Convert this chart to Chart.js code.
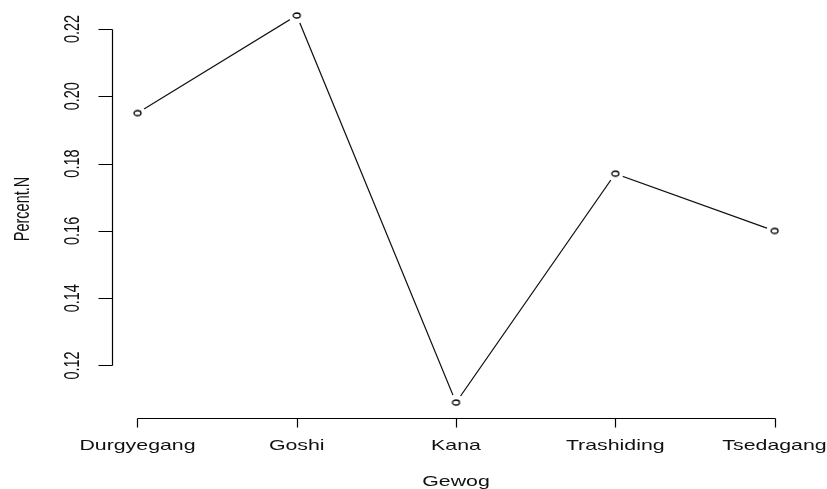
<!DOCTYPE html>
<html>
<head>
<meta charset="utf-8">
<script src="https://cdn.jsdelivr.net/npm/chart.js@4.4.0/dist/chart.umd.min.js"></script>
<style>
  html, body { margin: 0; padding: 0; background: #fff; }
  #wrap { width: 827px; height: 489px; }
</style>
</head>
<body>
<div id="wrap"><canvas id="chart" width="827" height="489"></canvas></div>
<script>
// values
const gewogs = ['Durgyegang', 'Goshi', 'Kana', 'Trashiding', 'Tsedagang']
const percentN = [0.195, 0.224, 0.109, 0.177, 0.160]
const yTicks = [0.12, 0.14, 0.16, 0.18, 0.20, 0.22]
const xTitle = 'Gewog'
const yTitle = 'Percent.N'

// R style axis limits: data range plus 4% each side
const yLo = Math.min(...percentN), yHi = Math.max(...percentN)
const yPad = (yHi - yLo) * 0.04
const xPad = (gewogs.length - 1) * 0.04

const points = percentN.map((v, i) => ({ x: i + 1, y: v }))

const FONT = '14.5px "Liberation Sans", Arial, sans-serif'
const STRETCH = 1.47   // the picture is wider than tall, text is stretched sideways

// hollow "o" marker, a bit wider than tall
function makeMarker() {
  const c = document.createElement('canvas')
  c.width = 11
  c.height = 9
  const g = c.getContext('2d')
  g.beginPath()
  g.ellipse(5.5, 4.5, 3.5, 2.5, 0, 0, Math.PI * 2)
  g.fillStyle = '#fff'
  g.fill()
  g.lineWidth = 1.3
  g.strokeStyle = '#000'
  g.stroke()
  return c
}

function stretchedText(ctx, text, x, y, rotate) {
  ctx.save()
  ctx.translate(x, y)
  ctx.scale(STRETCH, 1)
  if (rotate) ctx.rotate(-Math.PI / 2)
  ctx.fillText(text, 0, 0)
  ctx.restore()
}

// base graphics style axes: line only from first to last tick
const rAxes = {
  id: 'rAxes',
  afterDraw(chart) {
    const ctx = chart.ctx
    const xs = chart.scales.x, ys = chart.scales.y
    const area = chart.chartArea
    ctx.save()
    ctx.strokeStyle = '#000'
    ctx.lineWidth = 1.2
    ctx.fillStyle = '#111'
    ctx.font = FONT

    // x axis
    const bx = Math.round(area.bottom) + 0.5
    const x0 = xs.getPixelForValue(1), x1 = xs.getPixelForValue(gewogs.length)
    ctx.beginPath()
    ctx.moveTo(Math.round(x0) + 0.5, bx)
    ctx.lineTo(Math.round(x1) + 0.5, bx)
    gewogs.forEach((g, i) => {
      const px = Math.round(xs.getPixelForValue(i + 1)) + 0.5
      ctx.moveTo(px, bx)
      ctx.lineTo(px, bx + 9)
    })
    ctx.stroke()
    ctx.textAlign = 'center'
    ctx.textBaseline = 'alphabetic'
    gewogs.forEach((g, i) => {
      stretchedText(ctx, g, xs.getPixelForValue(i + 1), bx + 31.5, false)
    })
    stretchedText(ctx, xTitle, (area.left + area.right) / 2, bx + 67, false)

    // y axis
    const lx = Math.round(area.left) + 0.5
    const yA = ys.getPixelForValue(yTicks[0]), yB = ys.getPixelForValue(yTicks[yTicks.length - 1])
    ctx.beginPath()
    ctx.moveTo(lx, Math.round(yA) + 0.5)
    ctx.lineTo(lx, Math.round(yB) + 0.5)
    yTicks.forEach(t => {
      const py = Math.round(ys.getPixelForValue(t)) + 0.5
      ctx.moveTo(lx, py)
      ctx.lineTo(lx - 14, py)
    })
    ctx.stroke()
    ctx.textAlign = 'center'
    ctx.textBaseline = 'middle'
    yTicks.forEach(t => {
      stretchedText(ctx, t.toFixed(2), 73, ys.getPixelForValue(t), true)
    })
    stretchedText(ctx, yTitle, 23, (area.top + area.bottom) / 2, true)
    ctx.restore()
  }
}

const marker = makeMarker()

new Chart(document.getElementById('chart'), {
  type: 'line',
  data: {
    datasets: [
      {
        // open circles on top
        data: points,
        showLine: false,
        pointStyle: marker,
        pointRadius: 4
      },
      {
        // the connecting line, with white disks leaving a gap round each point
        data: points,
        borderColor: '#111',
        borderWidth: 1.2,
        tension: 0,
        pointRadius: 8,
        pointBackgroundColor: '#fff',
        pointBorderWidth: 0,
        pointBorderColor: '#fff'
      }
    ]
  },
  options: {
    responsive: false,
    animation: false,
    layout: { autoPadding: false, padding: { left: 112, right: 27, top: 0, bottom: 71 } },
    plugins: { legend: { display: false }, tooltip: { enabled: false } },
    scales: {
      x: { type: 'linear', min: 1 - xPad, max: gewogs.length + xPad, display: false },
      y: { type: 'linear', min: yLo - yPad, max: yHi + yPad, display: false }
    }
  },
  plugins: [rAxes]
})
</script>
</body>
</html>
